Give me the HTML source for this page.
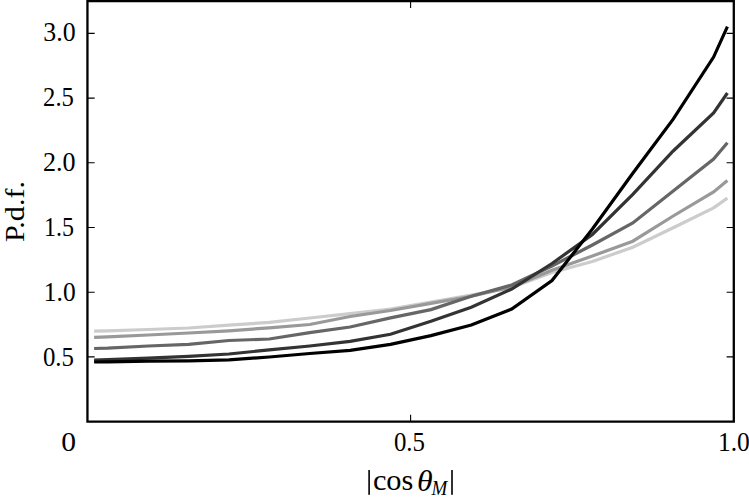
<!DOCTYPE html><html><head><meta charset="utf-8"><style>html,body{margin:0;padding:0;background:#fff;overflow:hidden;}svg{display:block;}text{font-family:"Liberation Serif",serif;fill:#000;}</style></head><body>
<svg width="749" height="503" viewBox="0 0 749 503">
<rect width="749" height="503" fill="#fff"/>
<polyline points="94.1,331.2 107.8,330.8 148.2,329.5 188.6,328.0 228.9,325.2 269.3,322.4 309.7,318.0 350.1,313.7 390.5,309.0 430.9,302.0 471.3,295.0 511.7,287.5 552.0,272.5 592.4,261.5 632.8,247.2 673.2,227.7 713.6,207.9 727.4,198.1" fill="none" stroke="#cccccc" stroke-width="3.2" stroke-linejoin="miter" stroke-linecap="butt"/>
<polyline points="94.1,337.3 107.8,336.8 148.2,335.0 188.6,333.0 228.9,330.8 269.3,327.8 309.7,324.5 350.1,316.5 390.5,310.5 430.9,303.4 471.3,296.3 511.7,287.0 552.0,270.3 592.4,256.0 632.8,241.2 673.2,216.0 713.6,192.0 727.4,180.6" fill="none" stroke="#999999" stroke-width="3.2" stroke-linejoin="miter" stroke-linecap="butt"/>
<polyline points="94.1,348.5 107.8,348.1 148.2,346.0 188.6,344.3 228.9,340.5 269.3,339.0 309.7,332.6 350.1,327.0 390.5,317.9 430.9,309.6 471.3,296.3 511.7,285.0 552.0,266.0 592.4,245.0 632.8,223.0 673.2,190.9 713.6,159.0 727.4,142.7" fill="none" stroke="#666666" stroke-width="3.2" stroke-linejoin="miter" stroke-linecap="butt"/>
<polyline points="94.1,360.1 107.8,359.7 148.2,358.2 188.6,356.4 228.9,354.0 269.3,349.9 309.7,346.0 350.1,341.3 390.5,334.3 430.9,321.3 471.3,307.2 511.7,289.0 552.0,263.5 592.4,234.5 632.8,194.3 673.2,151.0 713.6,112.9 727.4,93.0" fill="none" stroke="#333333" stroke-width="3.2" stroke-linejoin="miter" stroke-linecap="butt"/>
<polyline points="94.1,362.0 107.8,361.9 148.2,361.2 188.6,360.8 228.9,359.8 269.3,357.0 309.7,353.5 350.1,350.3 390.5,344.3 430.9,335.6 471.3,325.0 511.7,309.0 552.0,280.6 592.4,229.0 632.8,173.3 673.2,119.1 713.6,57.1 727.4,26.6" fill="none" stroke="#000000" stroke-width="3.2" stroke-linejoin="miter" stroke-linecap="butt"/>
<path d="M87.45,33.4h7.2M733.8,33.4h-7.2M87.45,98.1h7.2M733.8,98.1h-7.2M87.45,162.8h7.2M733.8,162.8h-7.2M87.45,227.5h7.2M733.8,227.5h-7.2M87.45,292.2h7.2M733.8,292.2h-7.2M87.45,356.9h7.2M733.8,356.9h-7.2M410.6,421.7v-7M410.6,1.0v7" stroke="#000" stroke-width="1.1" fill="none"/>
<path d="M87.45,1.0H733.8V421.7H87.45Z" stroke="#000" stroke-width="2.3" fill="none" stroke-linejoin="miter"/>
<text transform="translate(43.31,40.77) scale(0.2586,0.2657)" font-size="100">3.0</text>
<text transform="translate(43.11,105.63) scale(0.2470,0.2667)" font-size="100">2.5</text>
<text transform="translate(43.06,170.67) scale(0.2607,0.2672)" font-size="100">2.0</text>
<text transform="translate(43.94,235.83) scale(0.2402,0.2672)" font-size="100">1.5</text>
<text transform="translate(43.81,300.77) scale(0.2545,0.2647)" font-size="100">1.0</text>
<text transform="translate(42.91,365.75) scale(0.2487,0.2731)" font-size="100">0.5</text>
<text transform="translate(61.32,450.87) scale(0.2952,0.2672)" font-size="100">0</text>
<text transform="translate(393.91,450.76) scale(0.2487,0.2687)" font-size="100">0.5</text>
<text transform="translate(718.01,450.87) scale(0.2545,0.2632)" font-size="100">1.0</text>
<text transform="translate(24.32,242.10) rotate(-90) scale(0.3016,0.2833)" font-size="100">P.d.f.</text>
<rect x="368.3" y="470" width="1.6" height="24.8" fill="#000"/>
<text transform="translate(372.88,489.60) scale(0.3040,0.2979)" font-size="100">cos</text>
<text transform="translate(417.00,491.11) scale(0.3190,0.2930)" font-size="100" style="font-style:italic">θ</text>
<text transform="translate(431.49,495.40) scale(0.1899,0.2138)" font-size="100" style="font-style:italic">M</text>
<rect x="451.2" y="470" width="1.6" height="24.8" fill="#000"/>
</svg></body></html>
